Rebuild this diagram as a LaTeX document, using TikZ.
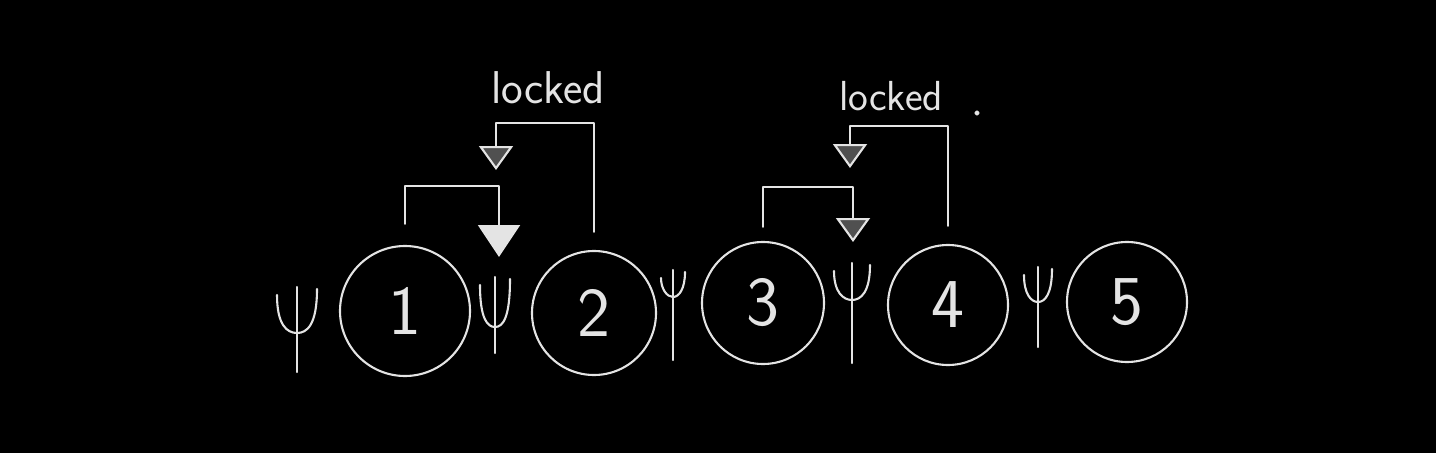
\documentclass[tikz,border=0pt]{standalone}
\usetikzlibrary{arrows.meta}
\definecolor{chalk}{RGB}{228,228,228}
\tikzset{
  chalk/.style={draw=chalk, line width=2.1pt, line cap=round, line join=round},
  phil/.style={circle, chalk, minimum size=#1, inner sep=0pt, text=chalk,
    font=\sffamily\fontsize{70}{70}\selectfont},
  phil/.default=122pt,
  lbl/.style={text=chalk, inner sep=0pt, anchor=base},
  link/.style={chalk},
  solidtip/.style={-{Triangle[length=32pt,width=42pt,fill=chalk]}},
  opentip/.style={-{Triangle[length=24pt,width=34pt,fill=chalk!35!black]}},
  pics/fork/.style args={#1/#2/#3}{code={
    \draw[chalk] (0,0) -- (0,#1);
    \draw[chalk] (-#2,8) .. controls (-#2,#3-8) and (-#2/2,#3) .. (0,#3)
                 .. controls (#2/2,#3) and (#2,#3-8) .. (#2,2);
  }}
}
\begin{document}
\begin{tikzpicture}[x=1pt,y=-1pt]
\fill[black] (0,0) rectangle (1436,453);
\useasboundingbox (0,0) rectangle (1436,453);

% philosophers
\node[phil=130pt] (p1) at (405,311) {1};
\node[phil=124pt] (p2) at (594,313) {2};
\node[phil=122pt] (p3) at (763,303) {3};
\node[phil=120pt] (p4) at (948,305) {4};
\node[phil=120pt] (p5) at (1127,302) {5};

% forks
\coordinate (f0) at (297,287);
\coordinate (f1) at (495,277);
\coordinate (f2) at (673,270);
\coordinate (f3) at (852,263);
\coordinate (f4) at (1038,267);
\pic at (f0) {fork=85/20/46};
\pic at (f1) {fork=76/15/50};
\pic at (f2) {fork=90/12/27};
\pic at (f3) {fork=100/18/37};
\pic at (f4) {fork=80/14/35};

% labels
\node[lbl, font=\sffamily\fontsize{46}{46}\selectfont] (l1) at (548,103) {locked};
\node[lbl, font=\sffamily\fontsize{42}{42}\selectfont] (l2) at (891,110) {locked};
\fill[chalk] (977,113) circle (1.6pt);

% arrow tips (free ends)
\coordinate (t1) at (499,257);
\coordinate (t2) at (496,170);
\coordinate (t3) at (853,242);
\coordinate (t4) at (850,168);

% connectors
\draw[link, solidtip, shorten <=21pt] (p1.north) -- (p1.north |- 0,186) -- (t1 |- 0,186) -- (t1);
\draw[link, opentip, shorten <=18pt] (p2.north) -- (p2.north |- 0,123) -- (t2 |- 0,123) -- (t2);
\draw[link, opentip, shorten <=14pt] (p3.north) -- (p3.north |- 0,187) -- (t3 |- 0,187) -- (t3);
\draw[link, opentip, shorten <=18pt] (p4.north) -- (p4.north |- 0,126) -- (t4 |- 0,126) -- (t4);
\end{tikzpicture}
\end{document}
